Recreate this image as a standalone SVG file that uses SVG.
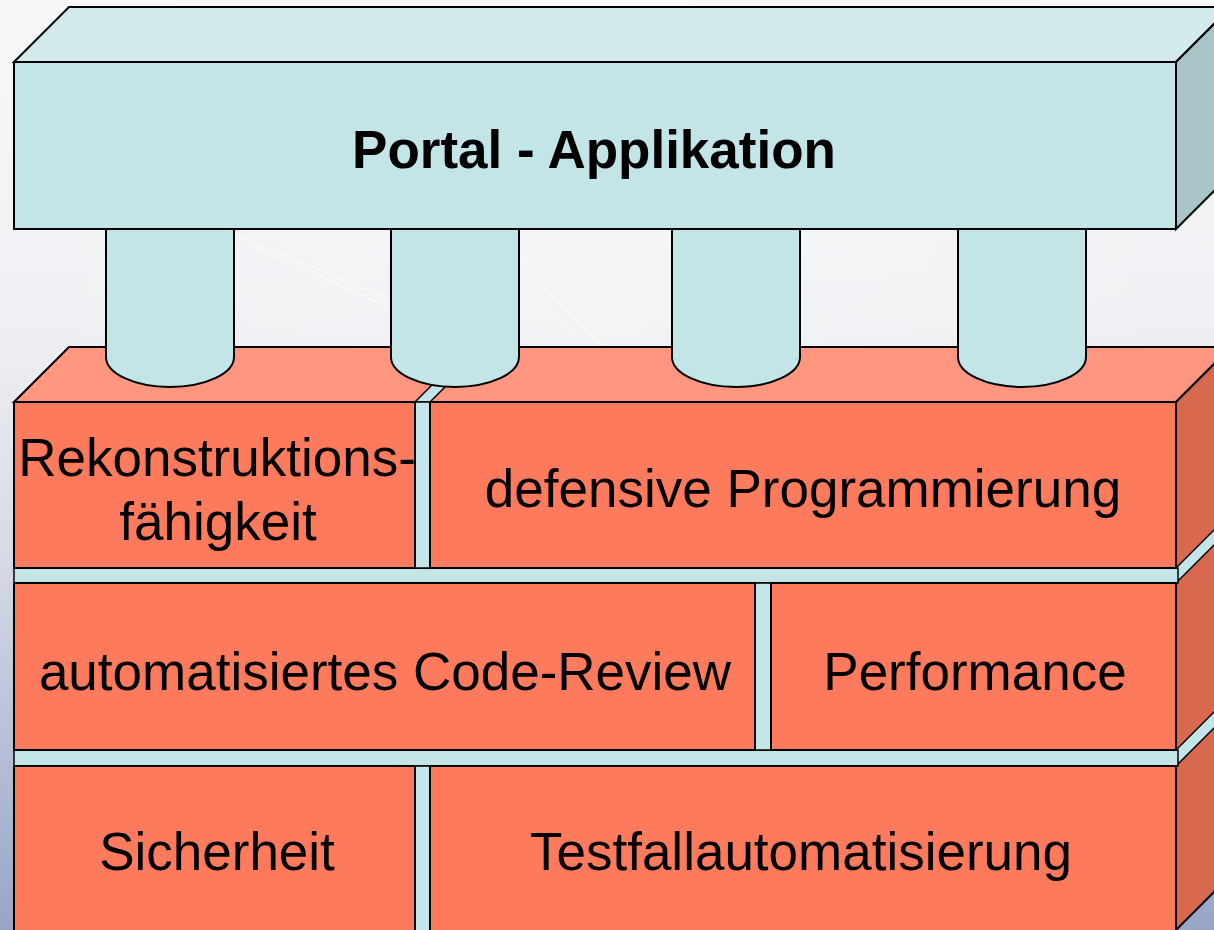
<svg xmlns="http://www.w3.org/2000/svg" width="1214" height="930" viewBox="0 0 1214 930">
  <defs>
    <linearGradient id="bg" x1="0" y1="0" x2="0" y2="1">
      <stop offset="0" stop-color="#f8f8fa"/>
      <stop offset="0.35" stop-color="#eff0f3"/>
      <stop offset="0.6" stop-color="#d6dae6"/>
      <stop offset="1" stop-color="#97a5c6"/>
    </linearGradient>
    <linearGradient id="bgh" x1="0" y1="0" x2="1" y2="0">
      <stop offset="0" stop-color="#ffffff" stop-opacity="0"/>
      <stop offset="0.5" stop-color="#ffffff" stop-opacity="0.25"/>
      <stop offset="1" stop-color="#ffffff" stop-opacity="0"/>
    </linearGradient>
  </defs>
  <style>
    .ln { stroke: #000; stroke-width: 2; stroke-linejoin: miter; }
    .cyan { fill: #c4e5e7; }
    .cyantop { fill: #d2eaeb; }
    .cyanside { fill: #a7c4c6; }
    .brick { fill: #fe7a5d; }
    .bricktop { fill: #fe9680; }
    .brickside { fill: #d8684e; }
    .mortar { fill: #c4e5e7; stroke: #000; stroke-width: 1.5; }
    .t { font-family: "Liberation Sans", Arial, sans-serif; font-size: 53px; fill: #000; text-anchor: middle; }
    .tb { font-family: "Liberation Sans", Arial, sans-serif; font-size: 53px; font-weight: bold; fill: #000; text-anchor: middle; }
  </style>

  <rect x="0" y="0" width="1214" height="930" fill="url(#bg)"/>
  <rect x="0" y="0" width="1214" height="930" fill="url(#bgh)"/>
  <g fill="none" stroke="#ffffff" stroke-opacity="0.35" stroke-width="3">
    <path d="M235,235 C320,270 390,300 470,330 C520,350 580,360 640,370"/>
    <path d="M250,245 C330,280 400,315 480,345"/>
    <path d="M520,255 C545,290 570,320 610,350"/>
  </g>

  <g id="wall-back">
    <polygon class="bricktop ln" points="14,402 69,347 1231,347 1176,402"/>
    <polygon class="brickside ln" points="1176,402 1231,347 1231,875 1176,930"/>
    <polygon class="mortar" points="415,402 430,402 485,347 470,347"/>
    <polygon class="mortar" points="1176,568 1176,583 1231,528 1231,513"/>
    <polygon class="mortar" points="1176,750 1176,766 1231,711 1231,695"/>
  </g>

  <g id="pillars">
    <path class="cyan ln" d="M106,229 V357 A64,30 0 0 0 234,357 V229 Z"/>
    <path class="cyan ln" d="M391,229 V357 A64,30 0 0 0 519,357 V229 Z"/>
    <path class="cyan ln" d="M672,229 V357 A64,30 0 0 0 800,357 V229 Z"/>
    <path class="cyan ln" d="M958,229 V357 A64,30 0 0 0 1086,357 V229 Z"/>
  </g>

  <g id="portal">
    <polygon class="cyantop ln" points="14,62 69,7 1231,7 1176,62"/>
    <polygon class="cyanside ln" points="1176,62 1231,7 1231,174 1176,229"/>
    <rect class="cyan ln" x="14" y="62" width="1162" height="167"/>
    <text class="tb" x="594" y="168">Portal - Applikation</text>
  </g>

  <g id="mortar-joints">
    <rect class="mortar" x="14" y="568" width="1164" height="15"/>
    <rect class="mortar" x="14" y="750" width="1164" height="16"/>
    <rect class="mortar" x="415" y="402" width="15" height="166"/>
    <rect class="mortar" x="755" y="583" width="16" height="167"/>
    <rect class="mortar" x="415" y="766" width="15" height="170"/>
  </g>

  <g id="brick-rekonstruktion">
    <rect class="brick ln" x="14" y="402" width="401" height="166"/>
    <text class="t" x="217" y="476">Rekonstruktions-</text>
    <text class="t" x="218" y="540">fähigkeit</text>
  </g>
  <g id="brick-defensive">
    <rect class="brick ln" x="430" y="402" width="746" height="166"/>
    <text class="t" x="803" y="507">defensive Programmierung</text>
  </g>
  <g id="brick-codereview">
    <rect class="brick ln" x="14" y="583" width="741" height="167"/>
    <text class="t" x="385" y="690">automatisiertes Code-Review</text>
  </g>
  <g id="brick-performance">
    <rect class="brick ln" x="771" y="583" width="405" height="167"/>
    <text class="t" x="975" y="690">Performance</text>
  </g>
  <g id="brick-sicherheit">
    <rect class="brick ln" x="14" y="766" width="401" height="170"/>
    <text class="t" x="217" y="870">Sicherheit</text>
  </g>
  <g id="brick-testfall">
    <rect class="brick ln" x="430" y="766" width="746" height="170"/>
    <text class="t" x="801" y="870">Testfallautomatisierung</text>
  </g>

  <g id="connectors"/>
</svg>
